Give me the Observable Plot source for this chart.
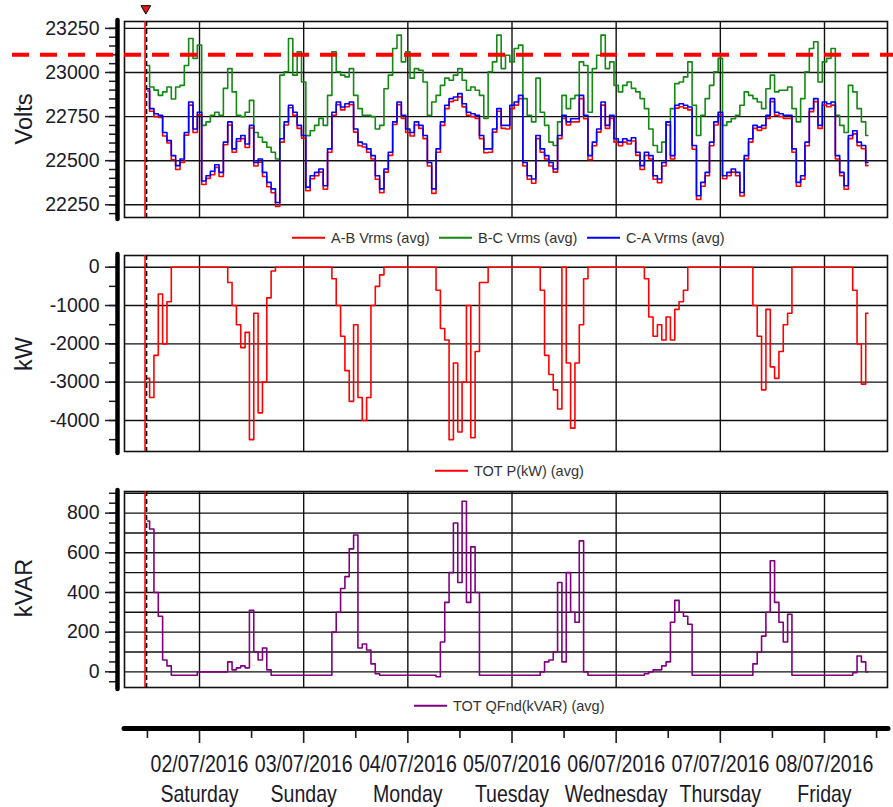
<!DOCTYPE html>
<html><head><meta charset="utf-8">
<script src="https://cdn.jsdelivr.net/npm/d3@7"></script>
<script src="https://cdn.jsdelivr.net/npm/@observablehq/plot@0.6"></script>
<style>
html,body{margin:0;padding:0;background:#fff;}
#chart{position:relative;width:893px;height:807px;overflow:hidden;font-family:"Liberation Sans",Arial,sans-serif;color:#1a1a2a;}
.panel{position:absolute;left:0;}
.panel svg{display:block;overflow:visible;}
.ytitle{position:absolute;font-size:23.5px;transform:translate(-50%,-50%) rotate(-90deg);white-space:nowrap;line-height:1;}
.leg{position:absolute;display:flex;align-items:center;font-size:14.5px;color:#333;white-space:nowrap;transform:translateY(-50%);line-height:1;}
.leg .sw{display:inline-block;width:33px;height:1.6px;margin-right:6px;}
</style></head><body><div id="chart"></div>
<script>
// ---------- data ----------
const seriesStart = "2016-07-01T12:00:00Z"; // hourly samples
const cursorTime = "2016-07-01T11:38:00Z";
const viewStart = "2016-07-01T06:43:00Z";
const viewEnd = "2016-07-08T14:31:00Z";
const voltLimit = 23100;

const abVolts = [
22895,22780,22750,22745,22640,22600,22505,22450,22490,22645,22815,22660,
22760,22365,22400,22420,22462,22410,22590,22702,22548,22610,22625,22575,
22685,22470,22492,22410,22352,22318,22240,22605,22702,22800,22758,22683,
22628,22330,22398,22415,22435,22338,22548,22758,22818,22788,22806,22818,
22662,22585,22578,22548,22510,22395,22318,22435,22530,22705,22818,22740,
22660,22640,22702,22683,22625,22470,22315,22548,22700,22795,22835,22843,
22862,22805,22758,22750,22740,22625,22545,22548,22662,22780,22683,22680,
22795,22815,22852,22470,22395,22372,22625,22548,22510,22470,22435,22625,
22740,22702,22720,22720,22852,22738,22505,22585,22662,22815,22683,22740,
22605,22585,22605,22595,22612,22530,22450,22530,22510,22395,22375,22470,
22702,22510,22798,22806,22798,22788,22565,22280,22355,22415,22585,22702,
22760,22398,22415,22435,22415,22300,22510,22605,22683,22672,22683,22740,
22835,22758,22750,22740,22740,22548,22355,22395,22585,22778,22835,22683,
22815,22806,22815,22510,22415,22338,22625,22652,22585,22568,22472];

const bcVolts = [
23040,22918,22900,22870,22890,22918,22850,22918,22927,23040,23193,23080,
23155,22700,22720,22757,22775,22757,22910,23022,22890,22757,22750,22775,
22842,22660,22633,22605,22576,22548,22510,22985,23004,23193,22985,23117,
22946,22642,22670,22700,22740,22700,22870,23117,23004,22985,22975,23022,
22870,22795,22757,22757,22750,22680,22700,22908,22985,23136,23212,23060,
23117,22968,23022,23013,22946,22757,22833,22870,22927,22968,22956,22985,
23022,22956,22899,22918,22899,22870,22740,23004,23060,23212,23022,23098,
23060,23136,23155,22852,22757,22720,22968,22775,22700,22605,22586,22720,
22870,22795,22852,22870,23060,23040,22775,23022,23098,23212,23022,23060,
22927,22890,22927,22946,22910,22890,22852,22795,22680,22586,22548,22605,
22720,22795,22937,22946,22975,23060,22814,22643,22757,22852,22927,23004,
23080,22700,22720,22738,22757,22814,22890,22870,22852,22833,22795,22908,
22985,22890,22899,22899,22918,22795,22720,22852,23004,23136,23174,22946,
23060,23080,23136,22757,22700,22660,22927,22890,22795,22720,22643];

const caVolts = [
22908,22795,22766,22757,22660,22614,22529,22472,22510,22660,22833,22680,
22775,22385,22415,22440,22477,22434,22605,22720,22567,22624,22643,22595,
22700,22490,22510,22434,22377,22340,22263,22624,22720,22814,22775,22700,
22643,22350,22415,22434,22453,22358,22567,22775,22833,22804,22823,22833,
22680,22605,22595,22567,22529,22415,22340,22453,22548,22720,22833,22757,
22680,22660,22720,22700,22643,22490,22340,22567,22720,22814,22852,22861,
22880,22823,22775,22766,22757,22643,22567,22567,22680,22795,22700,22700,
22814,22833,22870,22490,22415,22396,22643,22567,22529,22490,22453,22643,
22757,22720,22738,22738,22870,22757,22529,22605,22680,22833,22700,22757,
22624,22605,22624,22614,22630,22548,22472,22548,22529,22415,22396,22490,
22720,22529,22814,22823,22814,22804,22586,22301,22377,22434,22605,22720,
22775,22415,22434,22453,22434,22320,22529,22624,22700,22690,22700,22757,
22852,22775,22766,22757,22757,22567,22377,22415,22605,22795,22852,22700,
22833,22823,22833,22529,22434,22358,22643,22670,22605,22586,22490];

const totKW = [
-2900,-3400,-2300,-700,-2000,-900,0,0,0,0,0,0,
0,0,0,0,0,0,0,-400,-1000,-1500,-2100,-1700,
-4500,-1200,-3800,-3000,-800,-100,0,0,0,0,0,0,
0,0,0,0,0,0,0,-300,-1000,-1800,-2700,-3500,
-1500,-3400,-4000,-3400,-1000,-500,-200,0,0,0,0,0,
0,0,0,0,0,0,0,-600,-1600,-1900,-4500,-2500,
-4300,-3000,-1000,-4450,-2200,-400,-400,0,0,0,0,0,
0,0,0,0,0,0,0,-600,-2300,-2800,-3200,-3700,
0,-2500,-4200,-2500,-1500,-300,0,0,0,0,0,0,
0,0,0,0,0,0,0,-300,-1300,-1800,-1500,-1900,
-1300,-1900,-1100,-900,-600,0,0,0,0,0,0,0,
0,0,0,0,0,0,0,0,-1000,-1800,-3200,-1100,
-2600,-2900,-2200,-1500,-1200,0,0,0,0,0,0,0,
0,0,0,0,0,0,0,-600,-2000,-3050,-1200];

const totKVAR = [
760,720,400,280,60,30,-17,-17,-17,-17,-17,-17,
0,0,0,0,0,0,0,50,10,20,30,20,
310,100,60,120,10,-17,-17,-17,-17,-17,-17,-17,
-17,-17,-17,-17,-17,-17,-17,200,300,420,480,620,
690,120,140,110,40,-10,-17,-17,-17,-17,-17,-17,
-17,-17,-17,-17,-17,-17,-17,-25,150,350,500,750,
450,860,350,630,400,-17,-17,-17,-17,-17,-17,-17,
-17,-17,-17,-17,-17,-17,-17,0,50,60,100,450,
50,500,300,250,660,0,-17,-17,-17,-17,-17,-17,
-17,-17,-17,-17,-17,-17,-17,-10,0,10,10,30,
50,250,360,300,280,240,-17,-17,-17,-17,-17,-17,
-17,-17,-17,-17,-17,-17,-17,-17,40,100,180,300,
560,350,250,150,290,-17,-17,-17,-17,-17,-17,-17,
-17,-17,-17,-17,-17,-17,-17,-5,80,50,0];

// ticks
const voltTicks = [22250,22500,22750,23000,23250];
const voltMinor = [22200,22250,22300,22350,22400,22450,22500,22550,22600,22650,22700,22750,22800,22850,22900,22950,23000,23050,23100,23150,23200,23250];
const kwTicks = [-4000,-3000,-2000,-1000,0];
const kwMinor = [-4500,-4000,-3500,-3000,-2500,-2000,-1500,-1000,-500,0];
const kvarTicks = [0,200,400,600,800];
const kvarGrid = [0,100,200,300,400,500,600,700,800,900];
const kvarMinor = [-50,0,50,100,150,200,250,300,350,400,450,500,550,600,650,700,750,800,850,900];
const dayTicks = ["2016-07-02","2016-07-03","2016-07-04","2016-07-05","2016-07-06","2016-07-07","2016-07-08"];
const noonTicks = ["2016-07-01T12:00Z","2016-07-02T12:00Z","2016-07-03T12:00Z","2016-07-04T12:00Z","2016-07-05T12:00Z","2016-07-06T12:00Z","2016-07-07T12:00Z","2016-07-08T12:00Z"];
const dateLabels = ["02/07/2016","03/07/2016","04/07/2016","05/07/2016","06/07/2016","07/07/2016","08/07/2016"];
const dayLabels = ["Saturday","Sunday","Monday","Tuesday","Wednesday","Thursday","Friday"];

// ---------- build ----------
const t0 = new Date(seriesStart);
const timeAt = i => new Date(+t0 + i * 3600e3);
const rows = arr => arr.map((v, i) => ({t: timeAt(i), v}));
const xDomain = [new Date(viewStart), new Date(viewEnd)];
const cursor = new Date(cursorTime);
const dayDates = dayTicks.map(d => new Date(d + "T00:00:00Z"));
const noonDates = noonTicks.map(d => new Date(d));
const labelMap = new Map(dayDates.map((d, i) => [+d, dateLabels[i] + "\n" + dayLabels[i]]));

const FONT = '"Liberation Sans", Arial, sans-serif';
const INK = "#1a1a2a";
const chart = document.getElementById("chart");

function panel({top, height, mt, mb, ydomain, ticks, minor, grid, lines, extra = []}) {
  const svg = Plot.plot({
    width: 893, height, marginLeft: 124, marginRight: 6, marginTop: mt, marginBottom: mb,
    style: {background: "transparent", fontFamily: FONT, fontSize: "19.5px", color: INK, overflow: "visible"},
    x: {type: "utc", domain: xDomain, axis: null},
    y: {domain: ydomain, axis: null},
    marks: [
      Plot.gridY(grid, {stroke: "#111", strokeOpacity: 1, strokeWidth: 1.4}),
      Plot.gridX(dayDates, {stroke: "#111", strokeOpacity: 1, strokeWidth: 1.4}),
      Plot.frame({stroke: "#111", strokeWidth: 1.6}),
      ...lines,
      Plot.ruleX([cursor], {stroke: "#ff0000", strokeWidth: 1.6, dx: -0.8}),
      Plot.ruleX([cursor], {stroke: "#000", strokeWidth: 1.4, dx: 0.8, strokeDasharray: "5,3"}),
      Plot.axisY(minor, {anchor: "left", tickSize: 8, tickFormat: () => "", dx: -7, strokeWidth: 1.5, label: null}),
      Plot.axisY(ticks, {anchor: "left", tickSize: 12, tickPadding: 6, dx: -7, strokeWidth: 1.5, tickFormat: d => String(d), label: null, fill: INK}),
      Plot.ruleX([xDomain[0]], {dx: -7, stroke: "#000", strokeWidth: 4.5, strokeLinecap: "round", insetTop: -1, insetBottom: -2}),
      ...extra
    ]
  });
  const div = document.createElement("div");
  div.className = "panel";
  div.style.top = top + "px";
  div.appendChild(svg);
  chart.appendChild(div);
}

const lw = 1.6;
panel({
  top: 0, height: 225, mt: 21, mb: 8, ydomain: [22178, 23289],
  ticks: voltTicks, minor: voltMinor, grid: voltTicks,
  lines: [
    Plot.line(rows(abVolts), {x: "t", y: "v", stroke: "#ff0000", strokeWidth: lw, curve: "step"}),
    Plot.line(rows(bcVolts), {x: "t", y: "v", stroke: "#128a12", strokeWidth: lw, curve: "step"}),
    Plot.line(rows(caVolts), {x: "t", y: "v", stroke: "#0000ff", strokeWidth: lw, curve: "step"})
  ],
  extra: [
    Plot.ruleY([voltLimit], {stroke: "#ff0000", strokeWidth: 4, strokeDasharray: "17,11", insetLeft: -112, insetRight: -6}),
    Plot.dot([cursor], {x: d => d, frameAnchor: "top", dy: -13, symbol: "triangle", rotate: 180, r: 3.6, fill: "#e8141b", stroke: "#000", strokeWidth: 1})
  ]
});

panel({
  top: 240, height: 220, mt: 15, mb: 9, ydomain: [-4809, 305],
  ticks: kwTicks, minor: kwMinor, grid: kwTicks,
  lines: [Plot.line(rows(totKW), {x: "t", y: "v", stroke: "#ff0000", strokeWidth: lw, curve: "step"})]
});

panel({
  top: 480, height: 215, mt: 11, mb: 8, ydomain: [-79, 909],
  ticks: kvarTicks, minor: kvarMinor, grid: kvarGrid,
  lines: [Plot.line(rows(totKVAR), {x: "t", y: "v", stroke: "#800080", strokeWidth: lw, curve: "step"})]
});

// bottom time axis
{
  const svg = Plot.plot({
    width: 893, height: 107, marginLeft: 124, marginRight: 6, marginTop: 0, marginBottom: 79,
    style: {background: "transparent", fontFamily: FONT, color: INK, overflow: "visible"},
    x: {type: "utc", domain: xDomain, axis: null},
    y: {domain: [0, 1], axis: null},
    marks: [
      Plot.axisX(noonDates, {anchor: "bottom", tickSize: 10, tickFormat: () => "", strokeWidth: 1.6, label: null}),
      Plot.axisX(dayDates, {anchor: "bottom", tickSize: 15, tickPadding: 7, strokeWidth: 1.6, label: null,
        tickFormat: d => labelMap.get(+d), fontSize: 24, lineHeight: 1.25, fontFamily: FONT, fill: INK}),
      Plot.ruleY([0], {stroke: "#000", strokeWidth: 5, strokeLinecap: "round", insetRight: -1})
    ]
  });
  const div = document.createElement("div");
  div.className = "panel";
  div.style.top = "700px";
  div.appendChild(svg);
  chart.appendChild(div);
  // the reference uses a narrow face: compress the tick labels horizontally around their own anchor
  svg.querySelectorAll("text").forEach(t => {
    if (!t.textContent) return;
    const bb = t.getBBox();
    const cx = bb.x + bb.width / 2;
    const prev = t.getAttribute("transform") || "";
    t.setAttribute("transform", `${prev} translate(${cx},0) scale(0.815,1) translate(${-cx},0)`);
  });
}

// y titles
[["Volts", 25, 119], ["kW", 25, 354], ["kVAR", 25, 588]].forEach(([txt, x, y]) => {
  const d = document.createElement("div");
  d.className = "ytitle";
  d.style.left = x + "px"; d.style.top = y + "px";
  d.textContent = txt;
  chart.appendChild(d);
});

// legends
const legendItems = [
  ["A-B Vrms (avg)", "#ff0000", 292, 237.5],
  ["B-C Vrms (avg)", "#128a12", 439, 237.5],
  ["C-A Vrms (avg)", "#0000ff", 587, 237.5],
  ["TOT P(kW) (avg)", "#ff0000", 435, 470.5],
  ["TOT QFnd(kVAR) (avg)", "#800080", 414, 706]
];
legendItems.forEach(([txt, col, x, y]) => {
  const d = document.createElement("div");
  d.className = "leg";
  d.style.left = x + "px"; d.style.top = y + "px";
  const sw = document.createElement("span");
  sw.className = "sw"; sw.style.background = col;
  const t = document.createElement("span");
  t.textContent = txt;
  d.appendChild(sw); d.appendChild(t);
  chart.appendChild(d);
});
</script></body></html>
